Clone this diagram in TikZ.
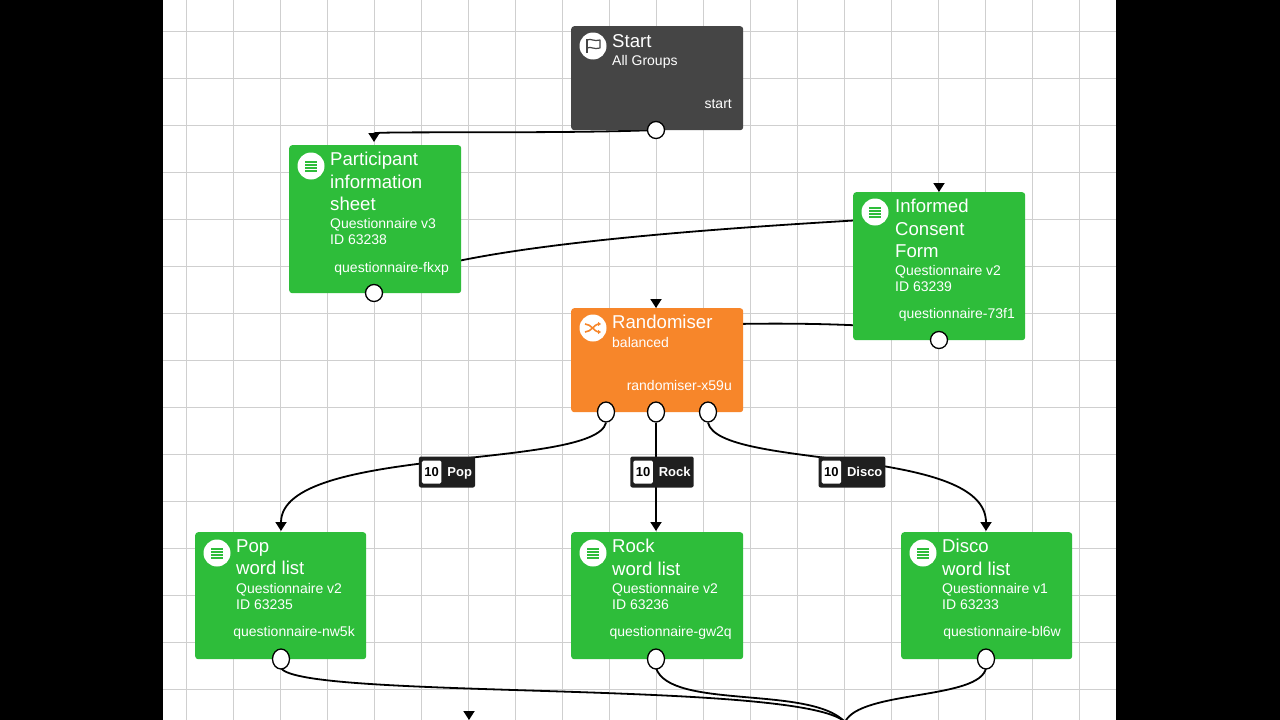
\documentclass[tikz,border=0pt]{standalone}
\usepackage{fontspec}
\setmainfont{Liberation Sans}
\usetikzlibrary{arrows.meta,shapes.geometric}
\definecolor{grn}{HTML}{2EBD3A}
\definecolor{org}{HTML}{F7862A}
\definecolor{drk}{HTML}{454545}
\definecolor{gridc}{HTML}{CFCFCF}
\tikzset{
  box/.style={draw=none,rounded corners=3pt,minimum width=172pt,anchor=north west,inner sep=0pt},
  port/.style={ellipse,draw=black,fill=white,line width=1.3pt,minimum width=17pt,minimum height=17pt,inner sep=0pt},
  ttl/.style={anchor=north west,text=white,font=\fontsize{18.6}{22.5}\selectfont,align=left,inner sep=0pt},
  sub/.style={anchor=north west,text=white,font=\fontsize{14}{16.5}\selectfont,align=left,inner sep=0pt},
  pid/.style={anchor=base east,text=white,font=\fontsize{14}{15}\selectfont,inner sep=0pt},
  icon/.style={circle,fill=white,minimum size=27pt,inner sep=0pt},
  conn/.style={line width=1.8pt,black},
  arr/.style={conn,-{Triangle[length=9pt,width=11pt]}},
  lab/.style={fill=black!88,rounded corners=2pt,text=white,font=\bfseries\fontsize{13}{15}\selectfont,inner xsep=3pt,inner ysep=3pt,minimum height=31pt},
  ten/.style={fill=white,text=black,rounded corners=1.5pt,inner xsep=2.5pt,inner ysep=1.5pt,minimum height=23pt},
}
\begin{document}
\begin{tikzpicture}[x=1pt,y=-1pt]
\useasboundingbox (0,0) rectangle (1280,720);
\fill[black] (0,0) rectangle (1280,720);
\fill[white] (163,0) rectangle (1116,720);
\foreach \i in {0,...,19}{\draw[gridc,line width=1pt] (186.3+47*\i,0) -- (186.3+47*\i,720);}
\foreach \j in {0,...,15}{\draw[gridc,line width=1pt] (163,31.3+47*\j) -- (1116,31.3+47*\j);}

\coordinate (pinT) at (374,142);
\coordinate (iin) at (939,215);
\coordinate (iinA) at (939,183.5);
\coordinate (iinT) at (939,192);
\coordinate (rin) at (656,330);
\coordinate (rinA) at (656,299.5);
\coordinate (rinT) at (656,308);
\coordinate (popT) at (281,531);
\coordinate (rockT) at (656,531);
\coordinate (discoT) at (986,531);
\coordinate (merge) at (845,722);
\coordinate (botA) at (469,720);
\coordinate (botA0) at (469,711.5);

\draw[arr] (656,130) .. controls (560,134) and (374,131) .. (pinT);
\draw[conn] (374,293) .. controls (420,236) and (900,220) .. (iin);
\draw[conn] (939,340) .. controls (939,318) and (656,322) .. (rin);

\node[box,fill=drk,minimum height=104pt] (start) at (571,26) {};
\node[box,fill=grn,minimum height=148pt] (pis) at (289,145) {};
\node[box,fill=grn,minimum height=148pt] (icf) at (853,192) {};
\node[box,fill=org,minimum height=104pt] (rnd) at (571,308) {};
\node[box,fill=grn,minimum height=127pt,minimum width=171pt] (pop) at (195,532) {};
\node[box,fill=grn,minimum height=127pt] (rock) at (571,532) {};
\node[box,fill=grn,minimum height=127pt,minimum width=171pt] (disco) at (901,532) {};
\draw[arr] (iinA) -- (iinT);
\draw[arr] (rinA) -- (rinT);

% start
\node[icon] (sicon) at (593,46) {};
\draw[drk,line width=1.3pt] (587,53) -- (587,39);
\draw[drk,line width=1.2pt,line join=round] (587,40) .. controls (591,38) and (594,42) .. (600,40) -- (600,48) .. controls (594,50) and (591,46) .. (587,48);
\node[ttl] (st1) at (612,34) {Start};
\node[sub] (st2) at (612,55) {All Groups};
\node[pid] (st3) at (732,108) {start};
% participant
\path (311,166) node[icon] (pic) {};
\foreach \dy in {-5,-2,1,4}{\fill[grn] (305,166+\dy) rectangle ++(12,2);}
\node[ttl] (p1) at (330,152) {Participant\\information\\sheet};
\node[sub] (p2) at (330,218) {Questionnaire v3\\ID 63238};
\node[pid] (p3) at (449,272) {questionnaire-fkxp};
% informed
\path (875,212) node[icon] (iic) {};
\foreach \dy in {-5,-2,1,4}{\fill[grn] (869,212+\dy) rectangle ++(12,2);}
\node[ttl] (i1) at (895,199) {Informed\\Consent\\Form};
\node[sub] (i2) at (895,265) {Questionnaire v2\\ID 63239};
\node[pid] (i3) at (1015,318) {questionnaire-73f1};
% randomiser
\path (593,328) node[icon] (ric) {};
\draw[org,line width=1.6pt,-{Triangle[length=3pt,width=4pt]}] (585,324) .. controls (591,324) and (595,332) .. (601,332);
\draw[org,line width=1.6pt,-{Triangle[length=3pt,width=4pt]}] (585,332) .. controls (591,332) and (595,324) .. (601,324);
\node[ttl] (r1) at (612,315) {Randomiser};
\node[sub] (r2) at (612,337) {balanced};
\node[pid] (r3) at (732,390) {randomiser-x59u};
\foreach \nm/\x/\t/\q/\id/\pp/\rx in {pop/195/Pop/Questionnaire v2/63235/questionnaire-nw5k/355, rock/571/Rock/Questionnaire v2/63236/questionnaire-gw2q/732, disco/901/Disco/Questionnaire v1/63233/questionnaire-bl6w/1061}{
  \path (\x+22,553) node[icon] (\nm ic) {};
  \foreach \dy in {-5,-2,1,4}{\fill[grn] (\x+16,553+\dy) rectangle ++(12,2);}
  \node[ttl] (\nm t) at (\x+41,539) {\t\\word list};
  \node[sub] (\nm s) at (\x+41,583) {\q\\ID \id};
  \node[pid] (\nm p) at (\rx,636) {\pp};
}

\node[port] (sp) at (656,130) {};
\node[port] (pp) at (374,293) {};
\node[port] (ip) at (939,340) {};
\node[port,minimum height=20pt] (rp1) at (606,412) {};
\node[port,minimum height=20pt] (rp2) at (656,412) {};
\node[port,minimum height=20pt] (rp3) at (708,412) {};

\draw[arr] (rp1.south) .. controls (595,470) and (281,445) .. (popT);
\draw[arr] (rp2.south) -- (rockT);
\draw[arr] (rp3.south) .. controls (719,470) and (986,445) .. (discoT);
\node[lab] (lpop) at (447,472) {\tikz[baseline=-4pt]\node[ten]{10};\hspace{6pt}Pop\hspace{2pt}};
\node[lab] (lrock) at (662,472) {\tikz[baseline=-4pt]\node[ten]{10};\hspace{6pt}Rock\hspace{2pt}};
\node[lab] (ldisco) at (852,472) {\tikz[baseline=-4pt]\node[ten]{10};\hspace{6pt}Disco\hspace{2pt}};

\draw[conn] (281,668) .. controls (300,700) and (800,680) .. (merge);
\draw[conn] (656,668) .. controls (670,710) and (810,685) .. (merge);
\draw[conn] (986,668) .. controls (980,700) and (860,690) .. (merge);
\draw[arr] (botA0) -- (botA);
\node[port,minimum height=20pt] (popP) at (281,659) {};
\node[port,minimum height=20pt] (rockP) at (656,659) {};
\node[port,minimum height=20pt] (discoP) at (986,659) {};
\end{tikzpicture}
\end{document}
